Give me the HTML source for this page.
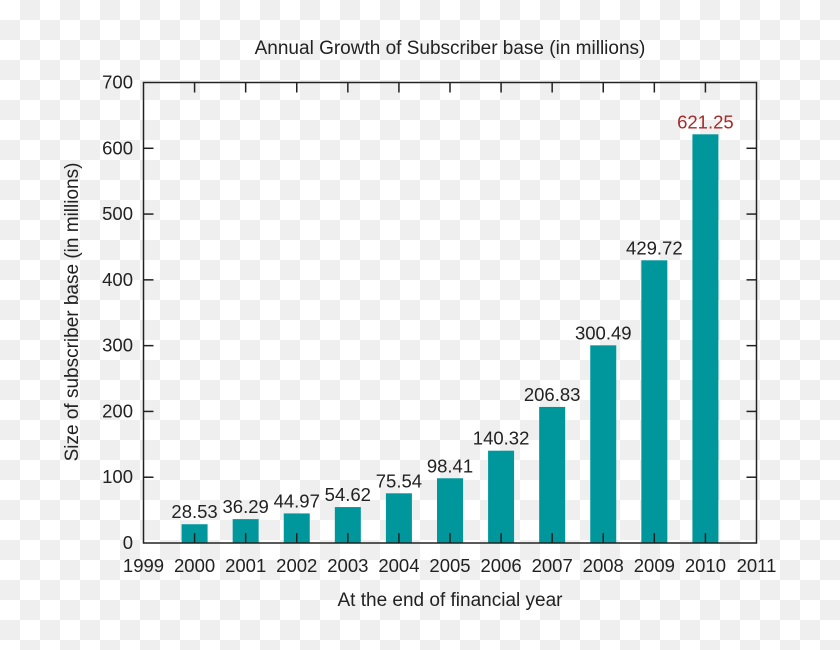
<!DOCTYPE html>
<html><head><meta charset="utf-8"><style>
html,body{margin:0;padding:0;width:840px;height:650px;overflow:hidden}
svg{display:block}
text{font-family:"Liberation Sans",sans-serif;fill:#222}
</style></head><body>
<svg width="840" height="650" xmlns="http://www.w3.org/2000/svg">
<defs><pattern id="ck" width="40" height="40" patternUnits="userSpaceOnUse">
<rect width="40" height="40" fill="#fff"/><rect x="20" y="0" width="20" height="20" fill="#efefef"/><rect x="0" y="20" width="20" height="20" fill="#efefef"/>
</pattern></defs>
<rect width="840" height="650" fill="url(#ck)"/>
<text x="450" y="54" font-size="19" text-anchor="middle">Annual Growth of Subscriber base (in millions)</text>
<text transform="translate(78,312) rotate(-90)" font-size="19" text-anchor="middle">Size of subscriber base (in millions)</text>
<text x="450" y="606" font-size="19" text-anchor="middle">At the end of financial year</text>
<g id="bars" fill="#00979c"></g>
<g id="lbl" font-size="18.5" text-anchor="middle"></g>
<g stroke="#222" stroke-width="1.5" fill="none" id="ax">
<rect x="143.5" y="82.5" width="613" height="460.5"/>
</g>
</svg>
<script>
var ns="http://www.w3.org/2000/svg";
function el(t,a,p,txt){var e=document.createElementNS(ns,t);for(var k in a)e.setAttribute(k,a[k]);if(txt!=null)e.textContent=txt;document.getElementById(p).appendChild(e);return e;}
var L=143.5,R=756.5,T=82.5,B=543;
function X(y){return L+(y-1999)*(R-L)/12}
function Y(v){return B-v*(B-T)/700}
var d=[28.53,36.29,44.97,54.62,75.54,98.41,140.32,206.83,300.49,429.72,621.25];
d.forEach(function(v,i){var x=X(2000+i);
el("rect",{x:x-13,y:Y(v),width:26,height:B-Y(v)},"bars");
var t=el("text",{x:x,y:Y(v)-6},"lbl",v.toFixed(2));if(i==10)t.setAttribute("style","fill:#a52a2a");});
for(var y=1999;y<=2011;y++){var x=X(y);
el("text",{x:x,y:572},"lbl",""+y);
if(y>1999&&y<2011){el("line",{x1:x,y1:B,x2:x,y2:B-10},"ax");el("line",{x1:x,y1:T,x2:x,y2:T+10},"ax");}}
for(var v=0;v<=700;v+=100){var yy=Y(v);
var t=el("text",{x:133,y:yy+6},"lbl",""+v);t.setAttribute("text-anchor","end");
if(v>0&&v<700){el("line",{x1:L,y1:yy,x2:L+10,y2:yy},"ax");el("line",{x1:R,y1:yy,x2:R-10,y2:yy},"ax");}}
</script>
</body></html>
